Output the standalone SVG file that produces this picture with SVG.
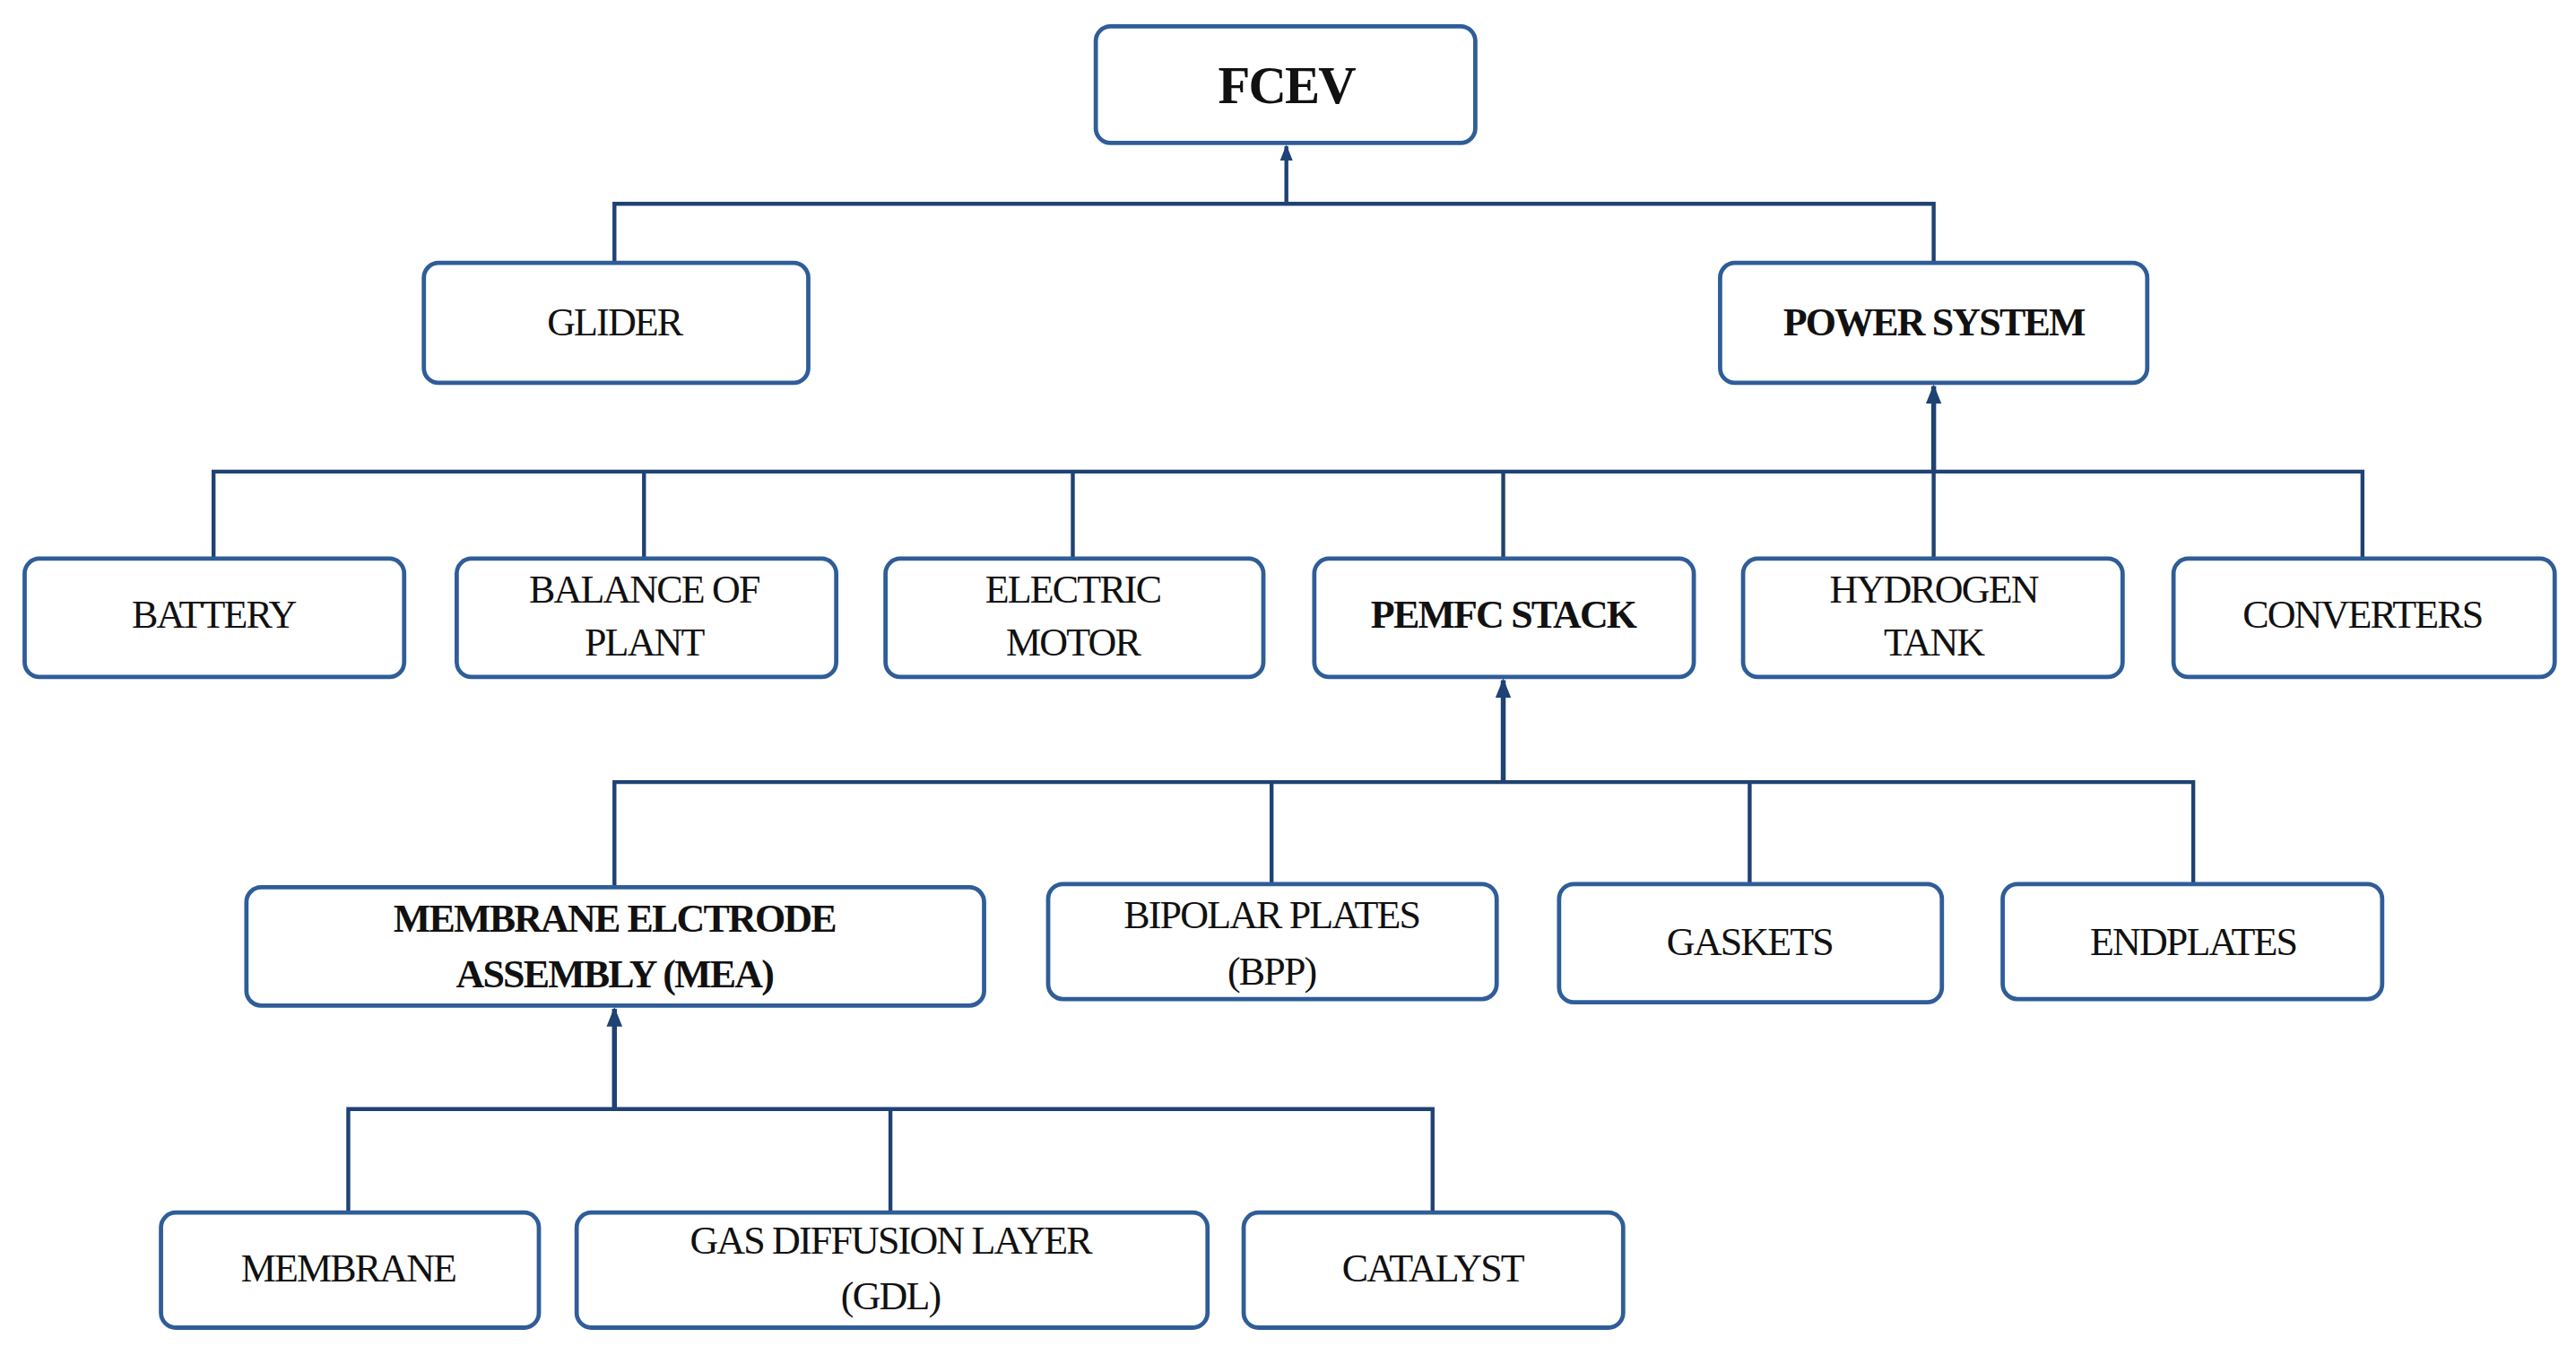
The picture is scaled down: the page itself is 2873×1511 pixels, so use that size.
<svg xmlns="http://www.w3.org/2000/svg" width="2873" height="1511" viewBox="0 0 2873 1511">
<style>
.n rect{fill:#fff;stroke:#2f5d98;stroke-width:2.6}
.n text{font-family:"Liberation Serif",serif;font-size:24px;fill:#111;text-anchor:middle;letter-spacing:-1px}
.b text{font-weight:bold}
.c path{fill:none;stroke:#1f4274;stroke-width:2.4}
</style>
<defs><marker id="a" viewBox="0 0 10 10" refX="9" refY="5" markerWidth="4" markerHeight="4" orient="auto"><path d="M0,1L10,5L0,9z" fill="#1f4274"/></marker></defs>
<rect width="2873" height="1511" fill="#fff"/>
<g transform="scale(1.8323)">
<g class="c">
<path d="M783,124V89" marker-end="url(#a)"/>
<path d="M374,160V124H1177V160"/>
<path d="M1177,287V235" marker-end="url(#a)" style="stroke-width:3"/>
<path d="M130,340V287H1438V340M392,287V340M653,287V340M915,287V340M1177,287V340"/>
<path d="M915,476V414" marker-end="url(#a)" style="stroke-width:3"/>
<path d="M374,540V476H1335V538M774,476V538M1065,476V538"/>
<path d="M374,675V614" marker-end="url(#a)" style="stroke-width:3"/>
<path d="M212,738V675H872V738M542,675V738"/>
</g>
<g id="fcev" class="n b"><rect x="667" y="16" width="231" height="71" rx="9"/><text x="783" y="63" style="font-size:32px">FCEV</text></g>
<g id="glider" class="n"><rect x="258" y="160" width="234" height="73" rx="9"/><text x="374" y="204">GLIDER</text></g>
<g id="power" class="n b"><rect x="1047" y="160" width="260" height="73" rx="9"/><text x="1177" y="204">POWER SYSTEM</text></g>
<g id="battery" class="n"><rect x="15" y="340" width="231" height="72" rx="9"/><text x="130" y="382">BATTERY</text></g>
<g id="bop" class="n"><rect x="278" y="340" width="231" height="72" rx="9"/><text x="392" y="367">BALANCE OF</text><text x="392" y="399">PLANT</text></g>
<g id="motor" class="n"><rect x="539" y="340" width="230" height="72" rx="9"/><text x="653" y="367">ELECTRIC</text><text x="653" y="399">MOTOR</text></g>
<g id="pemfc" class="n b"><rect x="800" y="340" width="231" height="72" rx="9"/><text x="915" y="382">PEMFC STACK</text></g>
<g id="tank" class="n"><rect x="1061" y="340" width="231" height="72" rx="9"/><text x="1177" y="367">HYDROGEN</text><text x="1177" y="399">TANK</text></g>
<g id="conv" class="n"><rect x="1323" y="340" width="232" height="72" rx="9"/><text x="1438" y="382">CONVERTERS</text></g>
<g id="mea" class="n b"><rect x="150" y="540" width="449" height="72" rx="9"/><text x="374" y="567">MEMBRANE ELCTRODE</text><text x="374" y="601">ASSEMBLY (MEA)</text></g>
<g id="bpp" class="n"><rect x="638" y="538" width="273" height="70" rx="9"/><text x="774" y="565">BIPOLAR PLATES</text><text x="774" y="599">(BPP)</text></g>
<g id="gaskets" class="n"><rect x="949" y="538" width="233" height="72" rx="9"/><text x="1065" y="581">GASKETS</text></g>
<g id="endplates" class="n"><rect x="1219" y="538" width="231" height="70" rx="9"/><text x="1335" y="581">ENDPLATES</text></g>
<g id="membrane" class="n"><rect x="98" y="738" width="230" height="70" rx="9"/><text x="212" y="780">MEMBRANE</text></g>
<g id="gdl" class="n"><rect x="351" y="738" width="384" height="70" rx="9"/><text x="542" y="763">GAS DIFFUSION LAYER</text><text x="542" y="797">(GDL)</text></g>
<g id="catalyst" class="n"><rect x="757" y="738" width="231" height="70" rx="9"/><text x="872" y="780">CATALYST</text></g>
</g>
</svg>
